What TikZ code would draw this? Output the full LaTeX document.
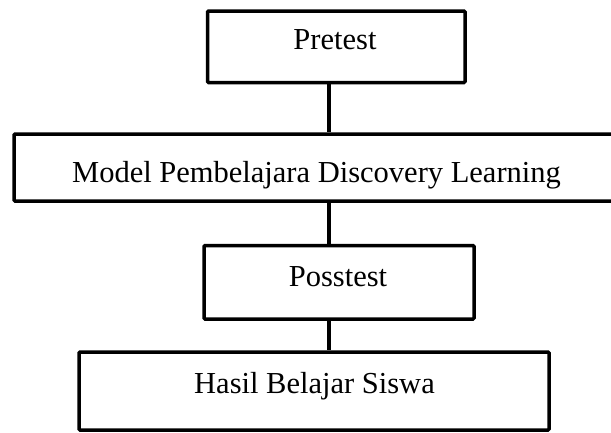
\documentclass[tikz,border=0pt]{standalone}
\usepackage{fontspec}
\setmainfont{Liberation Serif}
\begin{document}
\begin{tikzpicture}[x=1pt,y=-1pt,
  box/.style={draw=black, line width=3.5pt, rounded corners=1pt, fill=white, inner sep=0pt},
  lbl/.style={anchor=base, inner sep=0pt, font=\fontsize{30.5}{36}\selectfont},
  conn/.style={draw=black, line width=3.5pt}]
\fill[white] (0,0) rectangle (611,432);
\useasboundingbox (0,0) rectangle (611,432);
% boxes
\node[box, minimum width=257.5pt, minimum height=71.5pt] (pre) at (336.25,46.75) {};
\node[box, minimum width=602pt, minimum height=67pt] (model) at (315,167.5) {};
\node[box, minimum width=270pt, minimum height=73.5pt] (post) at (339,282.25) {};
\node[box, minimum width=470pt, minimum height=78pt] (hasil) at (314,391) {};
% labels
\node[lbl] (pretxt) at (335,49) {Pretest};
\node[lbl] (modeltxt) at (316.5,182) {Model Pembelajara Discovery Learning};
\node[lbl] (posttxt) at (338,286) {Posstest};
\node[lbl] (hasiltxt) at (314.5,393) {Hasil Belajar Siswa};
% connectors
\coordinate (ax) at (329,0);
\draw[conn] (pre.south -| ax) -- (model.north -| ax);
\draw[conn] (model.south -| ax) -- (post.north -| ax);
\draw[conn] (post.south -| ax) -- (hasil.north -| ax);
\end{tikzpicture}
\end{document}
